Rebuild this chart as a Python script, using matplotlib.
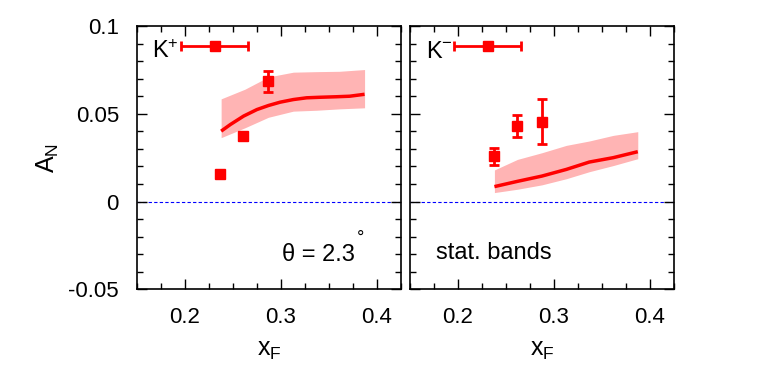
import matplotlib
matplotlib.use("Agg")
import matplotlib.pyplot as plt
from matplotlib.ticker import MultipleLocator, FixedLocator
import numpy as np

plt.rcParams['font.family'] = ['Liberation Sans', 'DejaVu Sans']
plt.rcParams['mathtext.fontset'] = 'custom'
plt.rcParams['mathtext.rm'] = 'Liberation Sans'
plt.rcParams['mathtext.it'] = 'Liberation Sans'

# ---- data: K+ ----
kp_x = [0.237, 0.261, 0.287]
kp_y = [0.0155, 0.0373, 0.0685]
kp_err = [0.0012, 0.0010, 0.0060]
kp_curve_x = [0.2377, 0.2474, 0.2612, 0.275, 0.287, 0.2992, 0.313, 0.3268,
              0.3406, 0.3579, 0.3717, 0.3873]
kp_curve = [0.0401, 0.0439, 0.0487, 0.0524, 0.0547, 0.0566, 0.0581, 0.0591,
            0.0594, 0.0597, 0.0600, 0.0611]
kp_band_x = [0.2377, 0.2625, 0.287, 0.313, 0.337, 0.361, 0.3873]
kp_upper = [0.0585, 0.0640, 0.0710, 0.0737, 0.0740, 0.0742, 0.0752]
kp_lower = [0.0364, 0.0420, 0.0480, 0.0515, 0.0520, 0.0528, 0.0534]

# ---- data: K- ----
km_x = [0.238, 0.2615, 0.2875]
km_y = [0.0259, 0.0430, 0.0455]
km_err = [0.0048, 0.0062, 0.0127]
km_curve_x = [0.238, 0.262, 0.2875, 0.313, 0.337, 0.362, 0.3875]
km_curve = [0.0085, 0.0115, 0.0145, 0.0183, 0.0225, 0.0250, 0.0284]
km_band_x = [0.238, 0.262, 0.2875, 0.313, 0.337, 0.362, 0.3875]
km_upper = [0.0180, 0.0240, 0.0278, 0.0320, 0.0345, 0.0377, 0.0398]
km_lower = [0.0051, 0.0070, 0.0095, 0.0130, 0.0170, 0.0205, 0.0244]

# horizontal bin-width marker
hbar_x = [0.231, 0.231]
hbar_y = 0.0888
hbar_xerr = 0.035

labels = ["K$^{+}$", "K$^{-}$"]

RED = '#ff0000'
BAND = '#ffb4b4'

fig = plt.figure(figsize=(7.63, 3.69), dpi=100)
ax1 = fig.add_axes([0.1796, 0.216, 0.3456, 0.7135])
ax2 = fig.add_axes([0.5374, 0.216, 0.3456, 0.7135])

sets = [(kp_x, kp_y, kp_err, kp_curve_x, kp_curve, kp_band_x, kp_upper, kp_lower),
        (km_x, km_y, km_err, km_curve_x, km_curve, km_band_x, km_upper, km_lower)]

for i, (ax, s) in enumerate(zip([ax1, ax2], sets)):
    x, y, e, cx, cy, bx, bu, bl = s
    ax.fill_between(bx, bl, bu, color=BAND, lw=0, zorder=1)
    ax.plot(cx, cy, color=RED, lw=2.5, zorder=2, solid_capstyle='butt')
    ax.axhline(0, color='#0000ff', lw=0.8, ls=(0, (3, 2)), zorder=1.5)
    ax.errorbar(x, y, yerr=e, fmt='s', color=RED, ms=6.5, capsize=3.5,
                elinewidth=2, capthick=2, zorder=3)
    ax.errorbar([hbar_x[i]], [hbar_y], xerr=hbar_xerr, fmt='s', color=RED,
                ms=6.5, capsize=3.5, elinewidth=2, capthick=2, zorder=3)
    ax.set_xlim(0.15, 0.425)
    ax.set_ylim(-0.05, 0.1)
    ax.xaxis.set_major_locator(FixedLocator([0.2, 0.3, 0.4]))
    ax.xaxis.set_minor_locator(MultipleLocator(0.025))
    ax.yaxis.set_major_locator(FixedLocator([-0.05, 0, 0.05, 0.1]))
    ax.yaxis.set_minor_locator(MultipleLocator(0.01))
    ax.tick_params(which='both', direction='in', top=True, right=True,
                   labelsize=16, width=1)
    ax.tick_params(which='major', length=7, pad=13)
    ax.tick_params(which='minor', length=4)
    ax.xaxis.set_major_formatter(plt.FuncFormatter(lambda v, p: f"{v:g}"))
    ax.yaxis.set_major_formatter(plt.FuncFormatter(lambda v, p: f"{v:g}"))
    for sp in ax.spines.values():
        sp.set_linewidth(1.2)
    ax.text(0.057 if i == 0 else 0.06, 0.88, labels[i], transform=ax.transAxes,
            fontsize=17, va='baseline', ha='left')
    ax.set_xlabel("x$_{\\mathrm{F}}$", fontsize=18, labelpad=7)

ax2.tick_params(labelleft=False)
ax1.set_ylabel("A$_{\\mathrm{N}}$", fontsize=18, labelpad=5)

ax1.text(0.548, 0.108, "θ = 2.3", transform=ax1.transAxes, fontsize=17,
         va='baseline', ha='left')
ax1.text(0.846, 0.195, "°", transform=ax1.transAxes, fontsize=13,
         va='center', ha='center')
ax2.text(0.10, 0.115, "stat. bands", transform=ax2.transAxes, fontsize=17,
         va='baseline', ha='left')

fig.savefig("out.png", dpi=100)
